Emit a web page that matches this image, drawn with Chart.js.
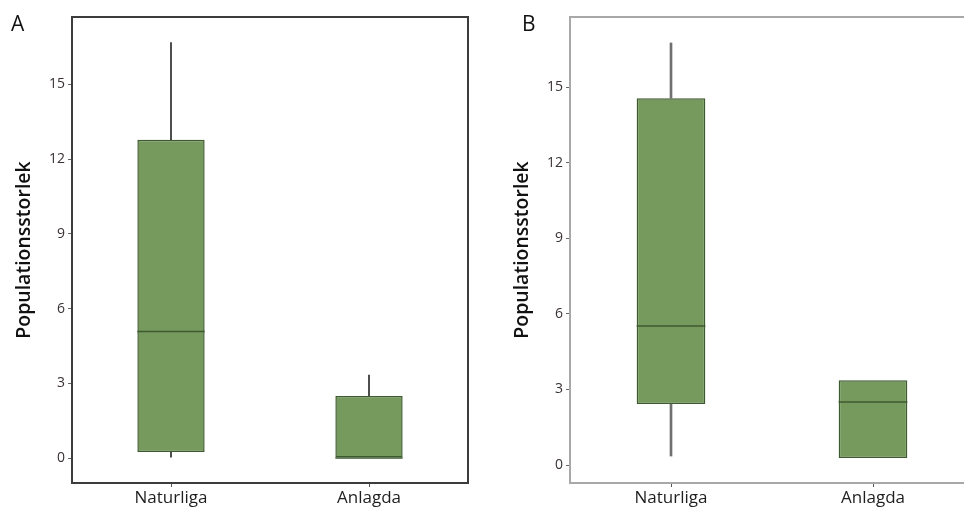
<!DOCTYPE html>
<html>
<head>
<meta charset="utf-8">
<script src="https://cdn.jsdelivr.net/npm/chart.js@4/dist/chart.umd.min.js"></script>
<style>
  html, body { margin:0; padding:0; background:#fff; overflow:hidden; width:964px; height:509px; }
  .wrap { position:absolute; top:0; height:509px; overflow:hidden; }
  .panel-letter { position:absolute; font-family:"Open Sans", sans-serif; font-size:21px; color:#111; line-height:1; }
</style>
</head>
<body>
<div class="wrap" style="left:0;width:480px;"><canvas id="cA" width="480" height="509"></canvas></div>
<div class="wrap" style="left:480px;width:484px;"><canvas id="cB" width="500" height="509"></canvas></div>
<div class="panel-letter" style="left:11px;top:13px;">A</div>
<div class="panel-letter" style="left:522px;top:13px;">B</div>
<script>
// ---- data ----
const categories = ["Naturliga", "Anlagda"];
const yTicks = [0, 3, 6, 9, 12, 15];
const yAxisTitle = "Populationsstorlek";

// Panel A
const A_min    = [0.04, 0.0];
const A_q1     = [0.24, 0.0];
const A_median = [5.08, 0.0];
const A_q3     = [12.77, 2.49];
const A_max    = [16.67, 3.33];

// Panel B
const B_min    = [0.36, 0.28];
const B_q1     = [2.42, 0.28];
const B_median = [5.52, 2.5];
const B_q3     = [14.56, 3.37];
const B_max    = [16.75, 3.37];

const boxFill = "#76995e";
const boxEdge = "#3e5a2f";

function makePanel(canvasId, mins, q1s, meds, q3s, maxs, cfg) {
  const boxes = categories.map((c, i) => [q1s[i], q3s[i]]);
  const lowerWhiskers = categories.map((c, i) => mins[i] < q1s[i] ? [mins[i], q1s[i]] : null);
  const upperWhiskers = categories.map((c, i) => maxs[i] > q3s[i] ? [q3s[i], maxs[i]] : null);

  const medianPlugin = {
    id: 'medianAndFrame',
    afterDatasetsDraw(chart) {
      const ctx = chart.ctx;
      const meta = chart.getDatasetMeta(0);
      const y = chart.scales.y;
      ctx.save();
      ctx.strokeStyle = boxEdge;
      ctx.lineWidth = 1.5;
      meta.data.forEach((bar, i) => {
        const half = bar.width / 2;
        const py = y.getPixelForValue(meds[i]);
        ctx.beginPath();
        ctx.moveTo(bar.x - half, py);
        ctx.lineTo(bar.x + half, py);
        ctx.stroke();
      });
      ctx.restore();
    },
    afterDraw(chart) {
      const a = chart.chartArea;
      const ctx = chart.ctx;
      ctx.save();
      ctx.strokeStyle = cfg.frameColor;
      ctx.lineWidth = cfg.frameWidth;
      ctx.strokeRect(a.left, a.top, a.right - a.left, a.bottom - a.top);
      ctx.restore();
    }
  };

  const whiskerStyle = {
    backgroundColor: cfg.whiskerColor,
    borderWidth: 0,
    barThickness: cfg.whiskerWidth,
    grouped: false
  };

  return new Chart(document.getElementById(canvasId), {
    type: 'bar',
    data: {
      labels: categories,
      datasets: [
        {
          label: 'box',
          data: boxes,
          backgroundColor: boxFill,
          borderColor: boxEdge,
          borderWidth: 1.5,
          borderSkipped: false,
          barPercentage: 0.34,
          categoryPercentage: 1.0,
          grouped: false
        },
        Object.assign({ label: 'upper whisker', data: upperWhiskers }, whiskerStyle),
        Object.assign({ label: 'lower whisker', data: lowerWhiskers }, whiskerStyle)
      ]
    },
    options: {
      responsive: false,
      animation: false,
      events: [],
      layout: { padding: { top: 17, right: cfg.rightPad, bottom: 0, left: 0 } },
      plugins: { legend: { display: false }, tooltip: { enabled: false } },
      scales: {
        x: {
          type: 'category',
          offset: true,
          border: { display: false },
          grid: { display: true, offset: false, drawOnChartArea: false, drawTicks: true, tickLength: 4, color: '#555', lineWidth: 1 },
          ticks: { color: '#1e1e1e', padding: 1, font: { family: 'Open Sans', size: 17 } },
          afterFit(s) { s.height = 26; }
        },
        y: {
          type: 'linear',
          min: cfg.yMin,
          max: cfg.yMax,
          border: { display: false },
          grid: { display: true, drawOnChartArea: false, drawTicks: true, tickLength: 4, color: '#666', lineWidth: 1 },
          ticks: { color: '#3a3232', padding: 3, font: { family: 'Open Sans', size: 14 } },
          afterBuildTicks(s) { s.ticks = yTicks.map(v => ({ value: v })); },
          title: {
            display: true,
            text: yAxisTitle,
            color: '#111',
            font: { family: 'Open Sans', size: 19.5, weight: '600' },
            padding: { top: cfg.titlePad, bottom: 0 }
          },
          afterFit(s) { s.width = cfg.axisWidth; }
        }
      }
    },
    plugins: [medianPlugin]
  });
}

makePanel('cA', A_min, A_q1, A_median, A_q3, A_max, {
  yMin: -1.0, yMax: 17.7, axisWidth: 72, rightPad: 12, titlePad: 13,
  frameColor: '#3c3c3c', frameWidth: 2, whiskerColor: '#4a4a4a', whiskerWidth: 1.3
});
makePanel('cB', B_min, B_q1, B_median, B_q3, B_max, {
  yMin: -0.71, yMax: 17.78, axisWidth: 90, rightPad: 6, titlePad: 31,
  frameColor: '#a8a8a8', frameWidth: 2, whiskerColor: '#707070', whiskerWidth: 2
});
</script>
</body>
</html>
